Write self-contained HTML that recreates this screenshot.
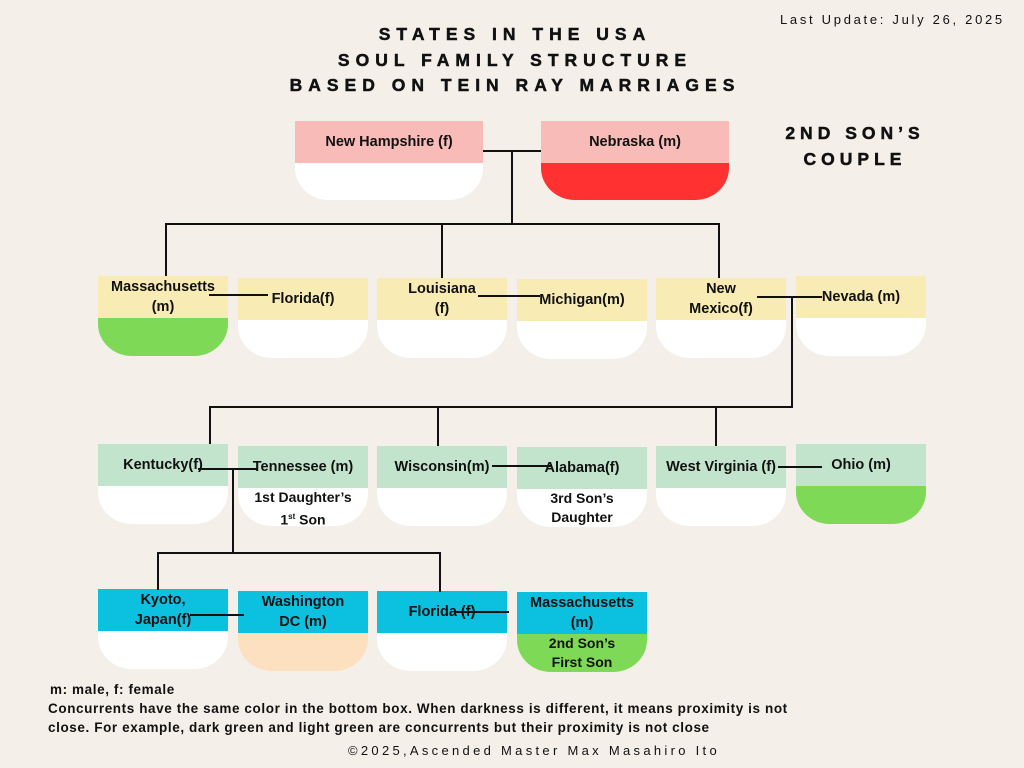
<!DOCTYPE html>
<html><head><meta charset="utf-8"><style>
body{margin:0;width:1024px;height:768px;background:#f4efe9;position:relative;overflow:hidden;font-family:"Liberation Sans",sans-serif;color:#111}
.t{position:absolute;font-weight:900;text-align:center;letter-spacing:6px;font-size:17.5px;line-height:25.5px;-webkit-text-stroke:0.5px #111}
.bx{position:absolute;width:130px}
.h{height:42px;display:flex;align-items:center;justify-content:center;text-align:center;font-size:14.5px;font-weight:bold;line-height:20px}
.b{height:38px;border-radius:0 0 34px 34px/0 0 32px 32px;background:#fff;text-align:center;font-size:14px;font-weight:bold;line-height:20px}
.y{background:#f8ebb4}.g{background:#c3e4cc}.c{background:#0cc0df}.p{background:#f9bbb7}
.ln{position:absolute;background:#111}
.ft{position:absolute;font-size:13.5px;font-weight:bold;line-height:19px;white-space:nowrap;letter-spacing:0.6px}
</style></head><body>
<div class="t" style="left:230px;top:22px;width:570px">STATES IN THE USA<br>SOUL FAMILY STRUCTURE<br>BASED ON TEIN RAY MARRIAGES</div>
<div class="t" style="left:755px;top:121px;width:200px;letter-spacing:5px">2ND SON’S<br>COUPLE</div>
<div style="position:absolute;left:780px;top:12px;font-size:13px;letter-spacing:2.7px">Last Update: July 26, 2025</div>

<div class="bx" style="left:295px;top:121px;width:188px"><div class="h p">New Hampshire (f)</div><div class="b" style="height:37px"></div></div>
<div class="bx" style="left:541px;top:121px;width:188px"><div class="h p">Nebraska (m)</div><div class="b" style="height:37px;background:#ff3131"></div></div>

<div class="bx" style="left:98px;top:276px"><div class="h y">Massachusetts<br>(m)</div><div class="b" style="background:#7ed957"></div></div>
<div class="bx" style="left:238px;top:278px"><div class="h y">Florida(f)</div><div class="b"></div></div>
<div class="bx" style="left:377px;top:278px"><div class="h y">Louisiana<br>(f)</div><div class="b"></div></div>
<div class="bx" style="left:517px;top:279px"><div class="h y">Michigan(m)</div><div class="b"></div></div>
<div class="bx" style="left:656px;top:278px"><div class="h y">New<br>Mexico(f)</div><div class="b"></div></div>
<div class="bx" style="left:796px;top:276px"><div class="h y">Nevada (m)</div><div class="b"></div></div>

<div class="bx" style="left:98px;top:444px"><div class="h g">Kentucky(f)</div><div class="b"></div></div>
<div class="bx" style="left:238px;top:446px"><div class="h g">Tennessee (m)</div><div class="b" style="line-height:19px">1st Daughter’s<br>1<sup style="font-size:8px">st</sup> Son</div></div>
<div class="bx" style="left:377px;top:446px"><div class="h g">Wisconsin(m)</div><div class="b"></div></div>
<div class="bx" style="left:517px;top:447px"><div class="h g">Alabama(f)</div><div class="b" style="line-height:19px">3rd Son’s<br>Daughter</div></div>
<div class="bx" style="left:656px;top:446px"><div class="h g">West Virginia (f)</div><div class="b"></div></div>
<div class="bx" style="left:796px;top:444px"><div class="h g">Ohio (m)</div><div class="b" style="background:#7ed957"></div></div>

<div class="bx" style="left:98px;top:589px"><div class="h c">Kyoto,<br>Japan(f)</div><div class="b"></div></div>
<div class="bx" style="left:238px;top:591px"><div class="h c">Washington<br>DC (m)</div><div class="b" style="background:#fde0c0"></div></div>
<div class="bx" style="left:377px;top:591px"><div class="h c">Florida (f)</div><div class="b"></div></div>
<div class="bx" style="left:517px;top:592px"><div class="h c">Massachusetts<br>(m)</div><div class="b" style="background:#7ed957;line-height:19px">2nd Son’s<br>First Son</div></div>

<div class="ln" style="left:483px;top:150px;width:58px;height:2px"></div>
<div class="ln" style="left:511px;top:150px;width:2px;height:75px"></div>
<div class="ln" style="left:165px;top:223px;width:555px;height:2px"></div>
<div class="ln" style="left:165px;top:223px;width:2px;height:53px"></div>
<div class="ln" style="left:441px;top:223px;width:2px;height:55px"></div>
<div class="ln" style="left:718px;top:223px;width:2px;height:55px"></div>

<div class="ln" style="left:209px;top:294px;width:59px;height:2px"></div>
<div class="ln" style="left:478px;top:295px;width:62px;height:2px"></div>
<div class="ln" style="left:757px;top:296px;width:65px;height:2px"></div>
<div class="ln" style="left:791px;top:296px;width:2px;height:112px"></div>
<div class="ln" style="left:210px;top:406px;width:583px;height:2px"></div>
<div class="ln" style="left:209px;top:406px;width:2px;height:38px"></div>
<div class="ln" style="left:437px;top:406px;width:2px;height:40px"></div>
<div class="ln" style="left:715px;top:406px;width:2px;height:40px"></div>

<div class="ln" style="left:198px;top:468px;width:59px;height:2px"></div>
<div class="ln" style="left:492px;top:465px;width:60px;height:2px"></div>
<div class="ln" style="left:778px;top:466px;width:44px;height:2px"></div>
<div class="ln" style="left:232px;top:468px;width:2px;height:85px"></div>
<div class="ln" style="left:157px;top:552px;width:284px;height:2px"></div>
<div class="ln" style="left:157px;top:552px;width:2px;height:38px"></div>
<div class="ln" style="left:439px;top:552px;width:2px;height:40px"></div>

<div class="ln" style="left:190px;top:614px;width:54px;height:2px"></div>
<div class="ln" style="left:455px;top:611px;width:54px;height:2px"></div>

<div class="ft" style="left:50px;top:680px">m: male, f: female</div>
<div class="ft" style="left:48px;top:699px">Concurrents have the same color in the bottom box. When darkness is different, it means proximity is not<br>close. For example, dark green and light green are concurrents but their proximity is not close</div>
<div style="position:absolute;left:348px;top:743px;font-size:13px;letter-spacing:3.3px">©2025,Ascended Master Max Masahiro Ito</div>
</body></html>
